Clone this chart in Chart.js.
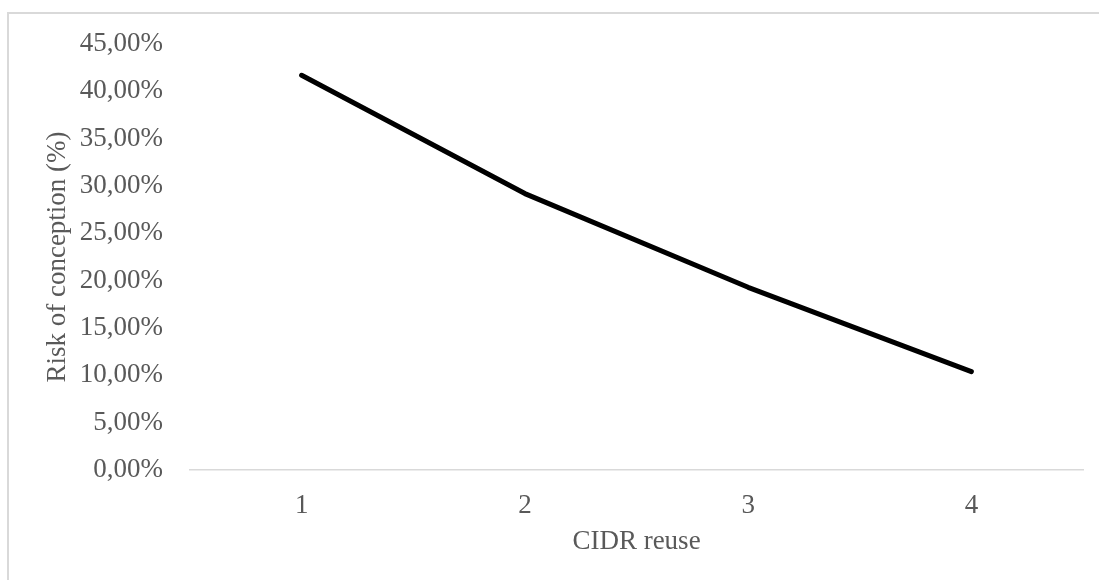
<!DOCTYPE html>
<html>
<head>
<meta charset="utf-8">
<script src="https://cdn.jsdelivr.net/npm/chart.js@4"></script>
<style>
  html, body { margin: 0; padding: 0; background: #ffffff; }
  #wrap { position: relative; width: 1099px; height: 580px; overflow: hidden; }
  #frame { position: absolute; left: 7px; top: 12px; width: 1200px; height: 700px;
           border-top: 2px solid #d9d9d9; border-left: 2px solid #d9d9d9; box-sizing: border-box; }
  canvas { position: absolute; left: 0; top: 0; }
</style>
</head>
<body>
<div id="wrap">
  <div id="frame"></div>
  <canvas id="c" width="1099" height="580"></canvas>
</div>
<script>
const categories = ['1', '2', '3', '4'];
const riskValues = [41.7, 29.2, 19.3, 10.4];
const xTitle = 'CIDR reuse';
const yTitle = 'Risk of conception (%)';

const FONT = 'Liberation Serif, "Times New Roman", serif';
const TXT = '#595959';

new Chart(document.getElementById('c'), {
  type: 'line',
  data: {
    labels: categories,
    datasets: [{
      data: riskValues,
      borderColor: '#000000',
      borderWidth: 5,
      borderCapStyle: 'round',
      borderJoinStyle: 'round',
      pointRadius: 0,
      fill: false,
      tension: 0
    }]
  },
  options: {
    responsive: false,
    animation: false,
    devicePixelRatio: 1,
    layout: { padding: { top: 44, right: 16, bottom: 0, left: 0 } },
    plugins: { legend: { display: false }, tooltip: { enabled: false } },
    scales: {
      x: {
        offset: true,
        grid: { display: true, drawOnChartArea: false, drawTicks: false },
        border: { display: true, color: '#d9d9d9', width: 1.5 },
        ticks: { color: TXT, font: { family: FONT, size: 27 }, padding: 20 },
        title: { display: true, text: xTitle, color: TXT, font: { family: FONT, size: 27 },
                 padding: { top: 0, bottom: 22 } },
        afterFit: (s) => { s.height = 110; }
      },
      y: {
        min: 0, max: 45,
        grid: { display: false, drawTicks: false },
        border: { display: false },
        ticks: {
          stepSize: 5,
          color: TXT,
          font: { family: FONT, size: 27 },
          padding: 27,
          callback: (v) => v.toFixed(2).replace('.', ',') + '%'
        },
        title: { display: true, text: yTitle, color: TXT, font: { family: FONT, size: 27 },
                 padding: { top: 42, bottom: 0 } },
        afterFit: (s) => { s.width = 190; }
      }
    }
  }
});
</script>
</body>
</html>
